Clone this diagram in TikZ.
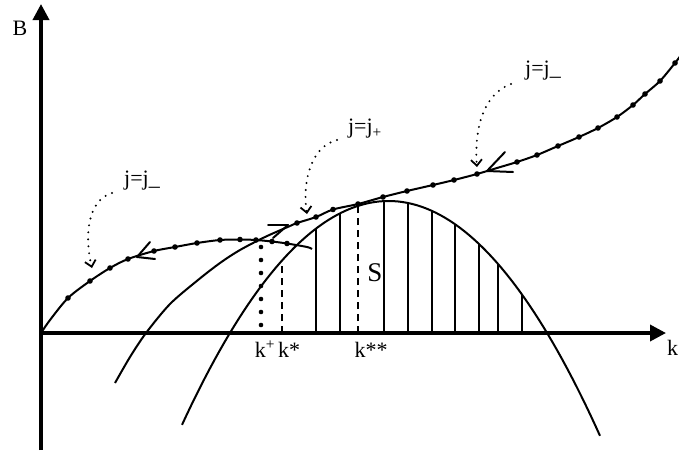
\documentclass[tikz,border=0pt]{standalone}
\usepackage{fontspec}
\setmainfont{Liberation Serif}
\usetikzlibrary{arrows.meta}
\begin{document}
\begin{tikzpicture}[x=1pt,y=-1pt,
  axis/.style={line width=3.6pt, -{Triangle[length=16pt,width=16pt]}},
  curve/.style={line width=2pt},
  hatch/.style={line width=1.7pt},
  wing/.style={line width=2pt, line cap=round},
  dotarrow/.style={line width=2.2pt, line cap=round, dash pattern=on 0pt off 7pt, -{Straight Barb[length=6pt,width=11pt,line width=1.8pt]}},
  lbl/.style={font=\fontsize{22}{22}\selectfont, inner sep=0pt},
  dashk/.style={line width=2.1pt, dash pattern=on 7pt off 5pt}
]
\useasboundingbox (0,0) rectangle (679,450);
% axes
\coordinate (O) at (41,333);
\coordinate (ytop) at (41,4);
\coordinate (ybot) at (41,450);
\coordinate (xend) at (666,333);
\draw[axis] (ybot) -- (ytop);
\draw[axis] (O) -- (xend);
% big parabola P2
\draw[curve] plot[domain=182:600, samples=90] (\x, {201+0.005254*(\x-388.5)*(\x-388.5)});
% hatch lines
\foreach \hx in {316,340,384,408,432,455,479,498,522} {
  \pgfmathsetmacro\hy{201+0.005254*(\hx-388.5)*(\hx-388.5)}
  \draw[hatch] (\hx,333) -- (\hx,\hy);
}
% k* and k** dashed
\draw[dashk] (282,333) -- (282,261);
\draw[dashk] (358,333) -- (358,204);
% k+ thick dotted
\draw[line width=4.6pt, line cap=round, dash pattern=on 0pt off 13pt] (261,325) -- (261,240);
% middle parabola P1
\draw[curve] plot[smooth] coordinates {(115,383) (130,357) (146,333) (170,304) (198,280) (220,263) (240,250) (265,237) (290,226)};
% curve A
\draw[curve] plot[smooth] coordinates {(41,333) (50,320) (68,298) (90,281) (110,268) (128,259) (154,251) (175,247) (197,243) (220,240) (240,239.5) (256,240) (272,241.5) (287,243.5) (307,247) (312,249)};
\foreach \p in {(68,298),(90,281),(110,268),(128,259),(154,251),(175,247),(197,243),(220,240),(240,239.5),(256,240),(272,241.5),(287,243.5)}
  \fill \p circle (2.8pt);
% curve B
\draw[curve] plot[smooth] coordinates {(290,226) (297,223) (316,217) (333,209.5) (358,204) (383,197) (407,191) (433,185) (454,180) (477,174) (497,168) (517,162) (537,155) (558,146) (579,137) (598,128) (617,117) (633,105) (645,94) (660,81) (675,63) (681,55)};
\foreach \p in {(297,223),(316,217),(333,209.5),(358,204),(383,197),(407,191),(433,185),(454,180),(477,174),(517,162),(537,155),(558,146),(579,137),(598,128),(617,117),(633,105),(645,94),(660,81),(675,63)}
  \fill \p circle (2.8pt);
% open arrowheads on curves
\coordinate (ta) at (137,257);
\draw[wing] (ta) -- (150,242);
\draw[wing] (ta) -- (155,259);
\coordinate (tb) at (288,225);
\draw[wing] (tb) -- (268,225);
\draw[wing] (tb) -- (273,238);
\coordinate (tc) at (487,171);
\draw[wing] (tc) -- (505,152);
\draw[wing] (tc) -- (513,172);
% labels
\node[lbl] (B) at (20,28) {B};
\node[lbl, anchor=base] (kp) at (265,357) {k\textsuperscript{+}};
\node[lbl, anchor=base] (ks) at (289,357) {k*};
\node[lbl, anchor=base] (kss) at (371,357) {k**};
\node[lbl, anchor=base west] (k) at (667,355) {k};
\node[font=\fontsize{27}{27}\selectfont, inner sep=0pt] (S) at (375,273) {S};
\node[lbl] (jl) at (142,181) {j=j\_};
\node[lbl] (jp) at (365,129) {j=j\textsubscript{+}};
\node[lbl] (jr) at (543,71) {j=j\_};
% dotted pointer arrows
\coordinate (jlS) at (112,193);
\coordinate (jlE) at (92,268);
\draw[dotarrow] (jlS) .. controls (88,200) and (84,235) .. (jlE);
\coordinate (jpS) at (337,140);
\coordinate (jpE) at (307,214);
\draw[dotarrow] (jpS) .. controls (312,146) and (302,180) .. (jpE);
\coordinate (jrS) at (511,84);
\coordinate (jrE) at (477,167);
\draw[dotarrow] (jrS) .. controls (483,94) and (474,130) .. (jrE);
\end{tikzpicture}
\end{document}
